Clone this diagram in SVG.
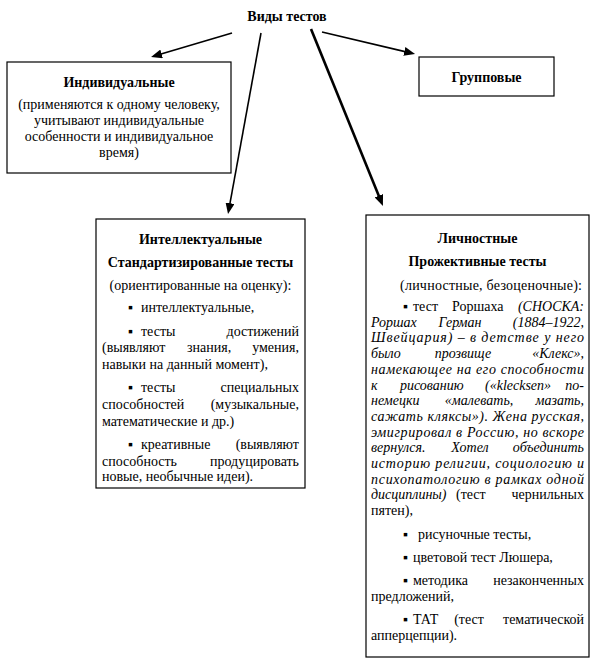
<svg xmlns="http://www.w3.org/2000/svg" width="598" height="668" viewBox="0 0 598 668">
<defs>
<style>
text{font-family:"Liberation Serif","Times New Roman",serif;font-size:14px;fill:#000}
.b{font-weight:bold}
.i{font-style:italic}
.c{text-anchor:middle}
.e{text-anchor:end}
.box{fill:#fff;stroke:#000;stroke-width:1.2}
.ln{stroke:#000;stroke-width:1.6;fill:none}
.thick{stroke-width:2.6}
</style>
<marker id="ah" markerUnits="userSpaceOnUse" markerWidth="11" markerHeight="9" refX="5" refY="4.5" orient="auto"><path d="M0,0 L11,4.5 L0,9 z" fill="#000"/></marker>
</defs>
<rect width="598" height="668" fill="#fff"/>

<g id="title">
<text class="b c" x="287" y="21">Виды тестов</text>
</g>

<g id="connectors">
<line class="ln" x1="232" y1="33" x2="156.8" y2="55.3" marker-end="url(#ah)"/>
<line class="ln" x1="261" y1="33" x2="229.1" y2="208.1" marker-end="url(#ah)"/>
<line class="ln thick" x1="311" y1="29" x2="380.7" y2="200.4" marker-end="url(#ah)"/>
<line class="ln" x1="322" y1="32" x2="409.2" y2="52.6" marker-end="url(#ah)"/>
</g>

<g id="individual">
<rect class="box" x="7" y="62" width="224" height="111"/>
<text class="b c" x="119" y="87">Индивидуальные</text>
<text class="c" x="119" y="109">(применяются к одному человеку,</text>
<text class="c" x="119" y="125">учитывают индивидуальные</text>
<text class="c" x="119" y="141">особенности и индивидуальное</text>
<text class="c" x="119" y="157">время)</text>
</g>

<g id="group">
<rect class="box" x="419" y="57" width="135" height="39"/>
<text class="b c" x="486.5" y="82">Групповые</text>
</g>

<g id="intellectual">
<rect class="box" x="96" y="219" width="209" height="269"/>
<text class="b c" x="200.5" y="244">Интеллектуальные</text>
<text class="b c" x="200.5" y="267">Стандартизированные тесты</text>
<text class="c" x="200.5" y="290">(ориентированные на оценку):</text>
<text x="128" y="312">▪</text><text x="141" y="312">интеллектуальные,</text>
<text x="128" y="336">▪</text><text x="141" y="336">тесты</text><text class="e" x="299" y="336">достижений</text>
<text x="102" y="352">(выявляют</text><text x="187" y="352">знания,</text><text class="e" x="299" y="352">умения,</text>
<text x="102" y="369">навыки на  данный момент),</text>
<text x="128" y="392">▪</text><text x="141" y="392">тесты</text><text class="e" x="299" y="392">специальных</text>
<text x="102" y="409">способностей</text><text class="e" x="299" y="409">(музыкальные,</text>
<text x="102" y="426">математические и др.)</text>
<text x="128" y="449">▪</text><text x="141" y="449">креативные</text><text class="e" x="299" y="449">(выявляют</text>
<text x="102" y="466">способность</text><text class="e" x="299" y="466">продуцировать</text>
<text x="102" y="481">новые, необычные идеи).</text>
</g>

<g id="personal">
<rect class="box" x="366" y="215" width="223" height="442"/>
<text class="b c" x="477.5" y="243">Личностные</text>
<text class="b c" x="477.5" y="266">Прожективные тесты</text>
<text x="400" y="290" textLength="182" lengthAdjust="spacing">(личностные, безоценочные):</text>
<text x="403" y="311">▪</text><text x="413" y="311">тест</text><text x="452" y="311">Роршаха</text><text class="i e" x="584" y="311">(СНОСКА:</text>
<text class="i" x="371" y="326.7">Роршах</text><text class="i c" x="460" y="326.7">Герман</text><text class="i e" x="584" y="326.7">(1884–1922,</text>
<text class="i" x="371" y="342.4" textLength="213" lengthAdjust="spacing">Швейцария) – в детстве у него</text>
<text class="i" x="371" y="358.1">было</text><text class="i c" x="463" y="358.1">прозвище</text><text class="i e" x="584" y="358.1">«Клекс»,</text>
<text class="i" x="371" y="373.8" textLength="213" lengthAdjust="spacing">намекающее на его способности</text>
<text class="i" x="371" y="389.5">к</text><text class="i" x="400" y="389.5">рисованию</text><text class="i" x="485" y="389.5">(«klecksen»</text><text class="i e" x="584" y="389.5">по-</text>
<text class="i" x="371" y="405.2">немецки</text><text class="i c" x="479" y="405.2">«малевать,</text><text class="i e" x="584" y="405.2">мазать,</text>
<text class="i" x="371" y="420.9" textLength="213" lengthAdjust="spacing">сажать кляксы»). Жена русская,</text>
<text class="i" x="371" y="436.6" textLength="213" lengthAdjust="spacing">эмигрировал в Россию, но вскоре</text>
<text class="i" x="371" y="452.3">вернулся.</text><text class="i c" x="470" y="452.3">Хотел</text><text class="i e" x="584" y="452.3">объединить</text>
<text class="i" x="371" y="468" textLength="213" lengthAdjust="spacing">историю религии, социологию и</text>
<text class="i" x="371" y="483.7" textLength="213" lengthAdjust="spacing">психопатологию в рамках одной</text>
<text class="i" x="371" y="499.4">дисциплины)</text><text x="456" y="499.4">(тест</text><text class="e" x="584" y="499.4">чернильных</text>
<text x="371" y="515.1">пятен),</text>
<text x="403" y="539">▪</text><text x="418" y="539">рисуночные тесты,</text>
<text x="403" y="562">▪</text><text x="413" y="562">цветовой тест Люшера,</text>
<text x="403" y="585">▪</text><text x="413" y="585">методика</text><text class="e" x="584" y="585">незаконченных</text>
<text x="371" y="601">предложений,</text>
<text x="403" y="624">▪</text><text x="413" y="624">ТАТ</text><text class="c" x="469" y="624">(тест</text><text class="e" x="584" y="624">тематической</text>
<text x="371" y="640">апперцепции).</text>
</g>
</svg>
